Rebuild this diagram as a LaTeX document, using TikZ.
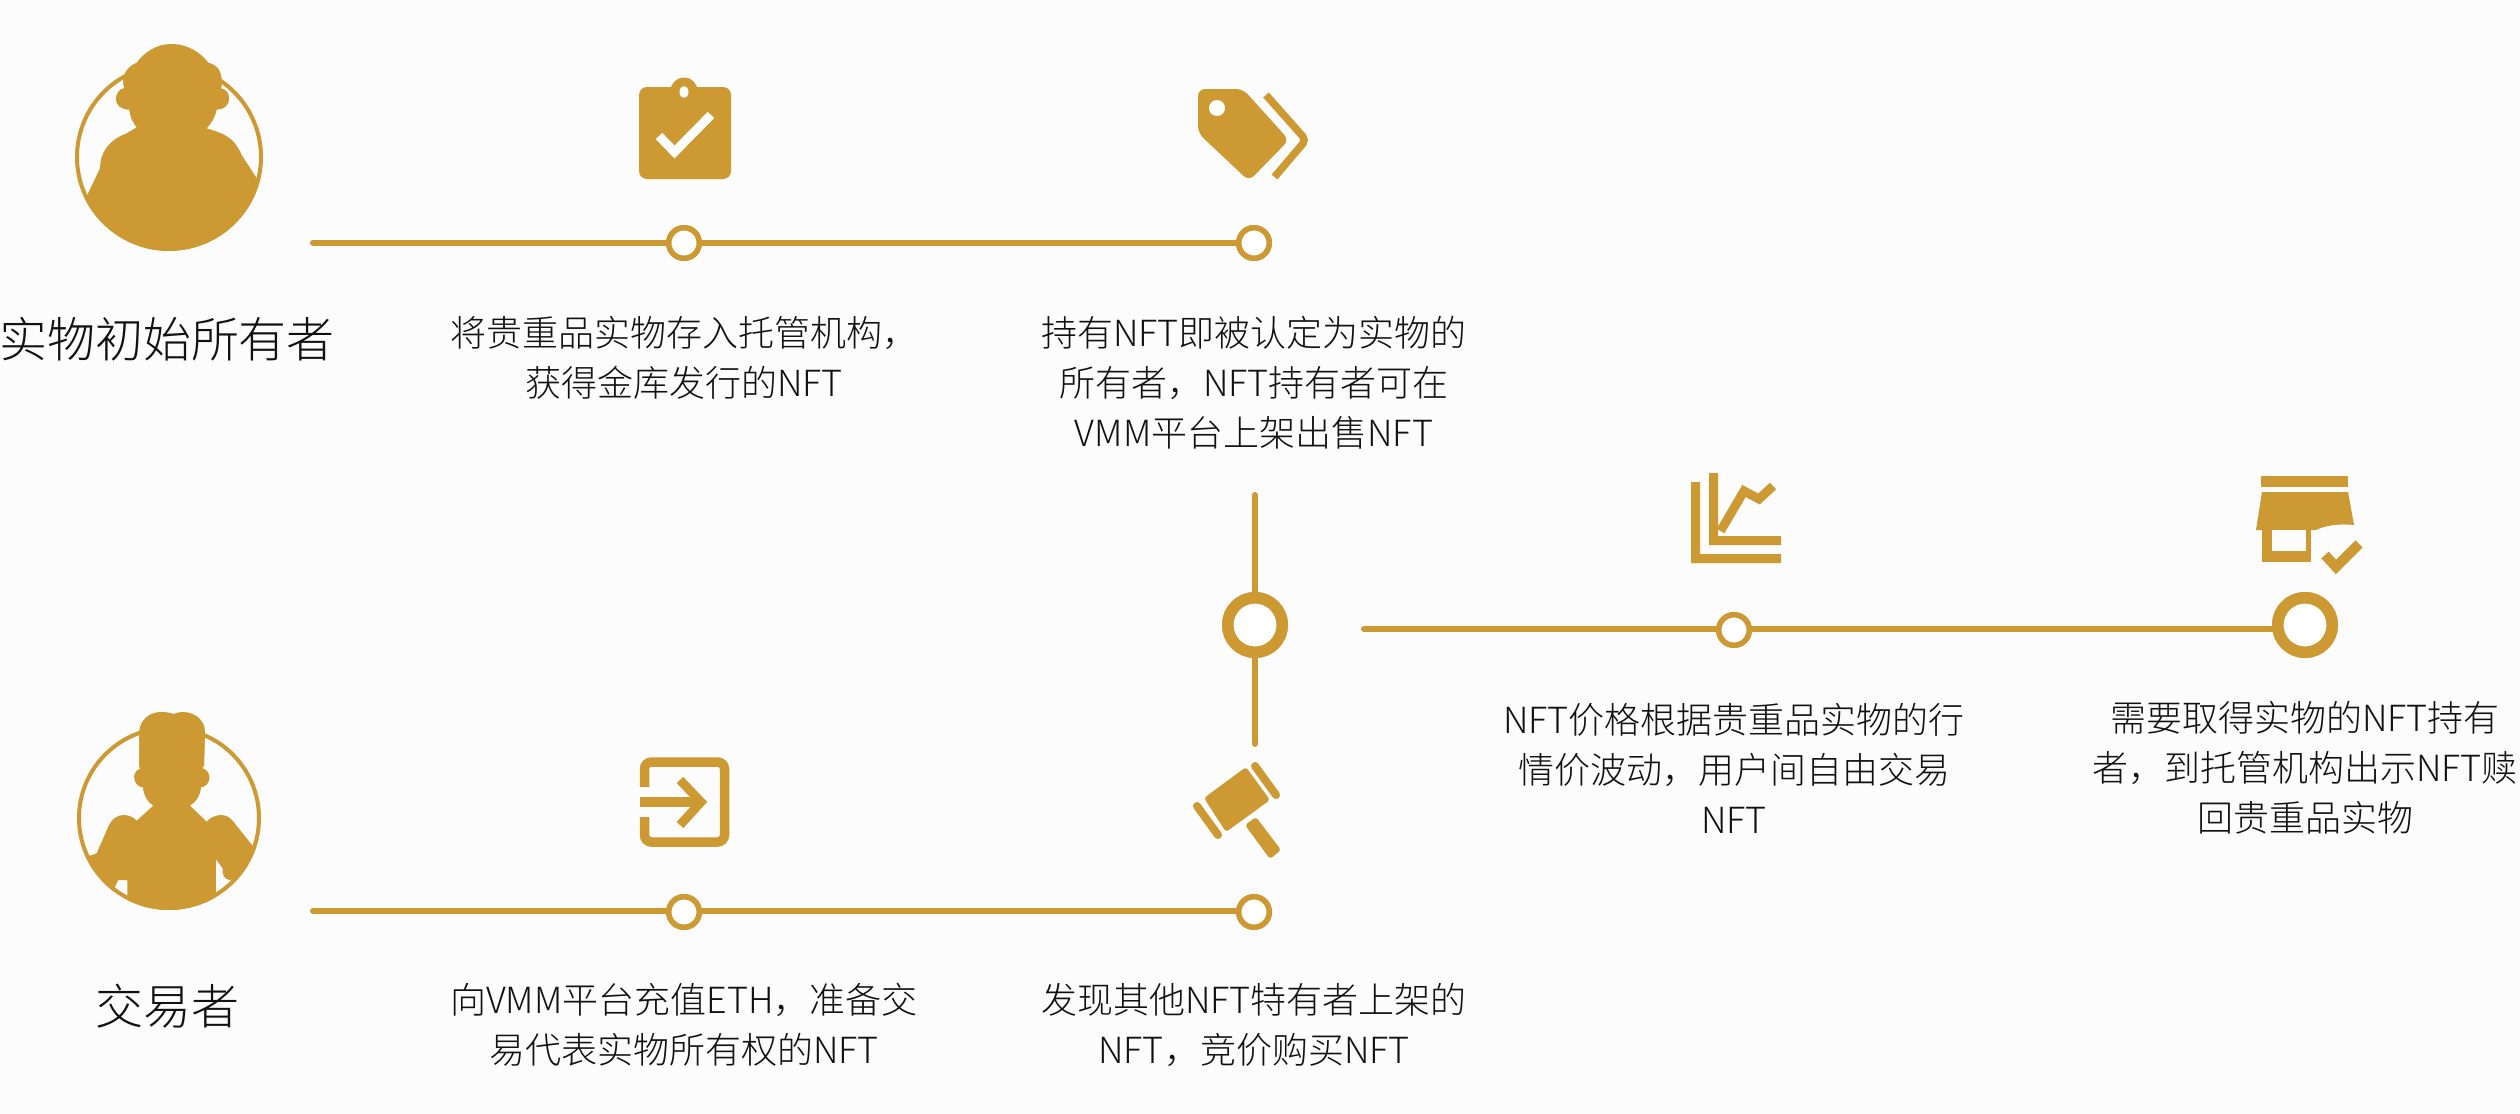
\documentclass[tikz,border=0pt]{standalone}
\usepackage{fontspec}
\newfontfamily\cjk{Noto Sans CJK SC Light}
\definecolor{gold}{HTML}{CC9933}
\definecolor{bgc}{HTML}{FCFCFC}
\definecolor{ink}{HTML}{111111}
\tikzset{
  lineconn/.style={draw=gold,line width=6pt,line cap=round},
  dotsmall/.style={circle,draw=gold,fill=white,line width=5.5pt,minimum size=30.5pt,inner sep=0pt},
  dotbig/.style={circle,draw=gold,fill=white,line width=11.5pt,minimum size=54.5pt,inner sep=0pt},
  ring/.style={circle,draw=gold,line width=4pt,inner sep=0pt},
  label/.style={font=\cjk\fontsize{36}{50}\selectfont,text=ink,align=center,inner sep=0pt},
  who/.style={font=\cjk\fontsize{48}{58}\selectfont,text=ink,align=center,inner sep=0pt},
}
\def\silA{(395,72) .. controls (440,72) and (480,95) .. (505,128)
 .. controls (530,135) and (548,150) .. (545,195) -- (543,205)
 .. controls (560,208) and (567,222) .. (567,237) .. controls (567,255) and (550,270) .. (530,268)
 .. controls (525,290) and (515,310) .. (500,325)
 .. controls (540,338) and (580,345) .. (605,405)
 -- (660,490) -- (700,800) -- (100,800) -- (130,550) -- (180,445)
 .. controls (180,400) and (205,360) .. (260,340) -- (290,322)
 .. controls (280,310) and (270,290) .. (268,268)
 .. controls (245,270) and (228,255) .. (228,237) .. controls (228,222) and (240,205) .. (253,205)
 .. controls (245,180) and (250,145) .. (290,128)
 .. controls (315,95) and (350,72) .. (395,72) -- cycle}
\def\silB{(362,66) .. controls (378,66) and (390,68) .. (400,72) .. controls (410,68) and (420,66) .. (428,66)
 .. controls (470,66) and (495,95) .. (495,125) -- (492,225) -- (487,235)
 .. controls (500,238) and (508,250) .. (508,262) .. controls (508,278) and (497,290) .. (482,292)
 .. controls (482,315) and (468,335) .. (450,347) -- (500,395)
 .. controls (510,382) and (530,375) .. (545,375) .. controls (565,375) and (578,390) .. (588,405)
 -- (640,470) -- (720,500) -- (620,600) -- (585,567) -- (568,570)
 .. controls (555,568) and (545,555) .. (548,535) -- (528,508) -- (528,700) -- (262,700) -- (262,570) -- (235,570)
 -- (200,640) -- (100,640) -- (100,497) -- (150,497) -- (170,490) -- (205,410)
 .. controls (215,385) and (235,375) .. (250,375) .. controls (268,375) and (282,383) .. (290,392)
 -- (340,347) .. controls (322,335) and (310,315) .. (310,292)
 .. controls (295,290) and (283,278) .. (283,262) .. controls (283,250) and (290,240) .. (300,237)
 -- (298,225) -- (298,125) .. controls (298,95) and (325,66) .. (362,66) -- cycle}
\begin{document}
\begin{tikzpicture}[x=1pt,y=-1pt]
\useasboundingbox (0,0) rectangle (2520,1114);
\fill[bgc] (0,0) rectangle (2520,1114);

% people
\begin{scope}[shift={(40,20)},scale=1/3]
  \begin{scope}\clip (0,0) rectangle (960,300); \fill[gold] \silA; \end{scope}
  \begin{scope}\clip (387,411) circle (281pt); \fill[gold] \silA; \end{scope}
\end{scope}
\node[ring,minimum size=184pt] (p1) at (169,157) {};
\begin{scope}[shift={(40,690)},scale=1/3]
  \begin{scope}\clip (0,0) rectangle (960,340); \fill[gold] \silB; \end{scope}
  \begin{scope}\clip (387,385) circle (275pt); \fill[gold] \silB; \end{scope}
\end{scope}
\node[ring,minimum size=180pt] (p2) at (169,818) {};

% titles
\node[who] (t1) at (167,339) {实物初始所有者};
\node[who] (t2) at (167,1006) {交易者};

% connector anchors and stations
\coordinate (s1) at (313,243);
\coordinate (s2) at (313,911);
\coordinate (s3) at (1364,629);
\coordinate (v1) at (1255,495);
\coordinate (v2) at (1255,744);
\node[dotsmall] (a1) at (684,243) {};
\node[dotsmall] (a2) at (1254,243) {};
\node[dotsmall] (b1) at (684,912) {};
\node[dotsmall] (b2) at (1254,912) {};
\node[dotsmall] (c1) at (1734,630) {};
\node[dotbig] (hub) at (1255,625) {};
\node[dotbig] (c2) at (2305,625) {};

\draw[lineconn] (s1) -- (a1);
\draw[lineconn] (a1) -- (a2);
\draw[lineconn] (s2) -- (b1 |- s2);
\draw[lineconn] (b1 |- s2) -- (b2 |- s2);
\draw[lineconn] (v1) -- (hub);
\draw[lineconn] (hub) -- (v2);
\draw[lineconn] (s3) -- (c1 |- s3);
\draw[lineconn] (c1 |- s3) -- (c2.west |- s3);
\node[dotsmall] at (b1) {};
\node[dotsmall] at (b2) {};
\node[dotsmall] at (c1) {};
\node[dotsmall] at (a1) {};
\node[dotsmall] at (a2) {};
\node[dotbig] at (hub) {};
\node[dotbig] at (c2) {};

% labels
\node[label] (l1) at (684,358) {将贵重品实物存入托管机构，\\获得金库发行的NFT};
\node[label] (l2) at (1254,383) {持有NFT即被认定为实物的\\所有者，NFT持有者可在\\VMM平台上架出售NFT};
\node[label] (l3) at (1734,768) {NFT价格根据贵重品实物的行\\情价波动，用户间自由交易\\NFT};
\node[label] (l4) at (2305,768) {需要取得实物的NFT持有\\者，到托管机构出示NFT赎\\回贵重品实物};
\node[label] (l5) at (684,1025) {向VMM平台充值ETH，准备交\\易代表实物所有权的NFT};
\node[label] (l6) at (1254,1025) {发现其他NFT特有者上架的\\NFT，竞价购买NFT};

% clipboard icon
\fill[gold,rounded corners=8pt] (639,87) rectangle (731,179);
\fill[gold] (684,91) circle (13.5pt);
\fill[white] (684,92) ellipse (4.5pt and 6pt);
\draw[white,line width=9pt] (659,136) -- (674.5,152) -- (711,115);

% tag icon
\fill[gold,rounded corners=7pt] (1198,89) -- (1243,89) -- (1289,140) -- (1249,181) -- (1198,133) -- cycle;
\fill[white] (1217,108) circle (8pt);
\draw[gold,line width=7.5pt,rounded corners=5pt] (1266,95) -- (1306,140) -- (1274.5,177);

% login icon
\draw[gold,line width=9.5pt,rounded corners=7pt] (644.5,787) -- (644.5,762) -- (724.5,762) -- (724.5,842) -- (644.5,842) -- (644.5,817);
\fill[gold] (640,797) rectangle (700,807);
\draw[gold,line width=9pt] (680,780) -- (701,802) -- (680,825);

% gavel icon
\fill[gold,rounded corners=3pt] (1246,767) -- (1270,800) -- (1226,832) -- (1204,798) -- cycle;
\draw[gold,line width=8pt,line cap=round] (1255,766) -- (1276,795);
\draw[gold,line width=8pt,line cap=round] (1197,806) -- (1218,835);
\fill[gold,rounded corners=3pt] (1256,817) -- (1281,850) -- (1270,859) -- (1245,825) -- cycle;

% chart icon
\fill[gold] (1691,482) rectangle (1700,563) (1691,554) rectangle (1781,563);
\fill[gold] (1709,473) rectangle (1718,545) (1709,536) rectangle (1781,545);
\draw[gold,line width=9pt] (1720.5,531) -- (1744,491) -- (1759,499) -- (1773,486);

% store icon
\fill[gold] (2261,476) rectangle (2348,487);
\fill[gold] (2262,492) -- (2348,492) -- (2354,525) .. controls (2335,523) and (2322,527) .. (2316,530) -- (2256,530) -- cycle;
\fill[gold] (2261.5,530) rectangle (2310.5,562);
\fill[bgc] (2272,530) rectangle (2305.5,551);
\draw[gold,line width=10pt] (2325,555) -- (2336,567) -- (2359,544);
\end{tikzpicture}
\end{document}
